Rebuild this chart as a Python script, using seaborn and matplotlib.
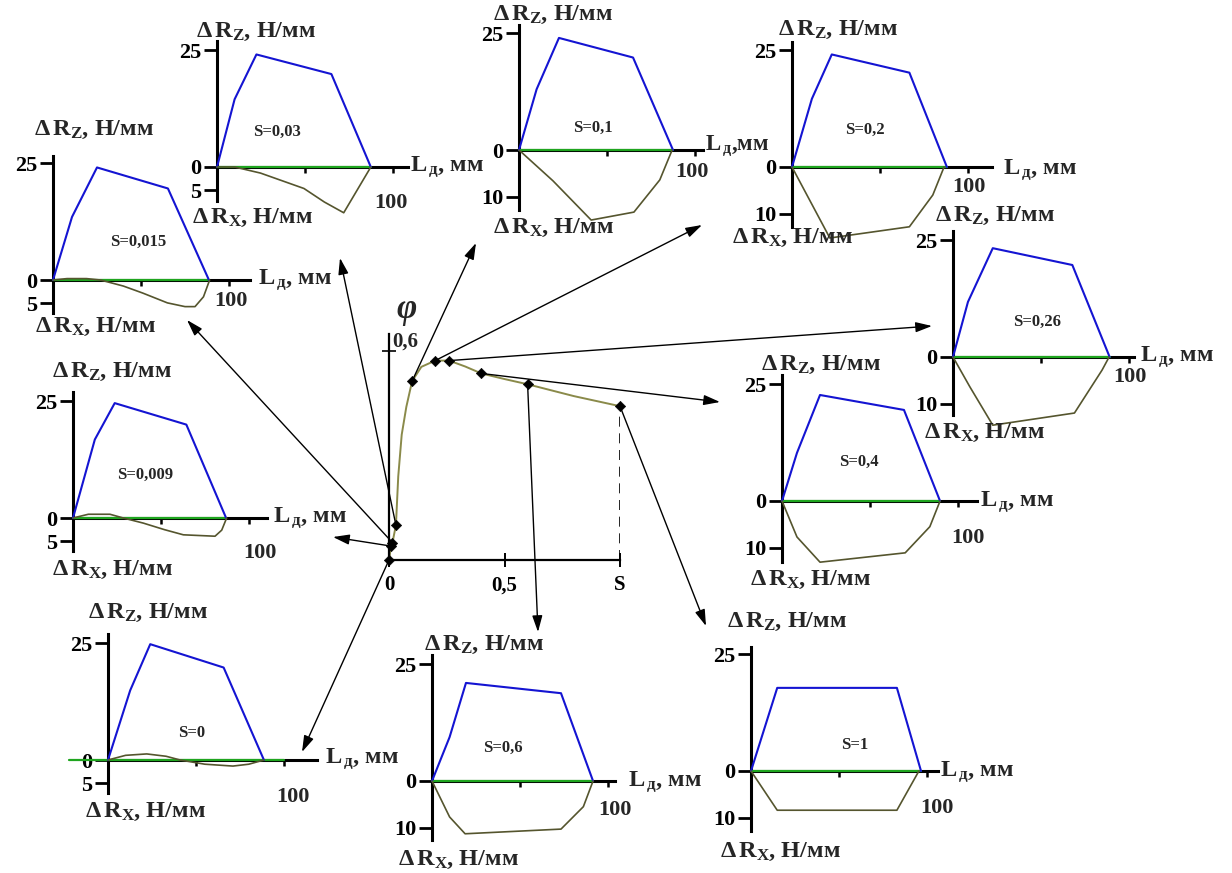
import numpy as np
import matplotlib
matplotlib.use("Agg")
import matplotlib.pyplot as plt
import seaborn as sns

# ---------------------------------------------------------------- data
# friction coefficient phi versus slip S
S_VALUES = [0, 0.009, 0.015, 0.03, 0.1, 0.2, 0.26, 0.4, 0.6, 1.0]
PHI_VALUES = [0.0, 0.04, 0.05, 0.10, 0.514, 0.573, 0.573, 0.536, 0.505, 0.442]
S_CURVE = [0, 0.009, 0.015, 0.03, 0.04, 0.055, 0.075, 0.1, 0.14, 0.2, 0.26,
           0.33, 0.4, 0.5, 0.6, 0.8, 1.0]
PHI_CURVE = [0.0, 0.04, 0.05, 0.10, 0.24, 0.36, 0.44, 0.514, 0.555, 0.573,
             0.573, 0.556, 0.536, 0.52, 0.505, 0.471, 0.442]

# contact-patch load profiles: L (mm), dRz and dRx (N/mm, dRx positive downwards)
LZ_0 = [0, 12.6, 24, 65.7, 88.6];          RZ_0 = [0, 14.9, 24.8, 19.8, 0]
LX_0 = [0, 10, 22, 33, 41, 55, 71, 80, 88.6]
RX_0 = [0, -1.0, -1.3, -0.8, 0, 0.9, 1.3, 0.9, 0]

LZ_009 = [0, 12.4, 23.7, 64.4, 87];        RZ_009 = [0, 16.8, 24.6, 20, 0]
LX_009 = [0, 8.7, 21, 28.6, 40, 52, 62.7, 80.7, 84.5, 87.3]
RX_009 = [0, -0.8, -0.8, 0, 1.1, 2.5, 3.6, 3.9, 2.6, 0]

LZ_015 = [0, 10.8, 25, 65.3, 88.6];        RZ_015 = [0, 13.5, 24.1, 19.6, 0]
LX_015 = [0, 8, 19, 27, 40, 51, 65, 75, 80.7, 85.5, 89]
RX_015 = [0, -0.3, -0.3, 0, 1.3, 2.8, 4.9, 5.7, 5.7, 3.6, 0]

LZ_03 = [0, 10, 22.4, 65, 87.4];           RZ_03 = [0, 14.5, 24.1, 19.9, 0]
LX_03 = [0, 10, 24.7, 49.4, 61, 72, 87.4]
RX_03 = [0, 0, 1.3, 4.6, 7.5, 9.8, 0]

LZ_1 = [0, 10, 22.7, 64.8, 87.5];          RZ_1 = [0, 13, 24, 19.8, 0]
LX_1 = [0, 19.3, 41, 65.3, 80, 87]
RX_1 = [0, 6.6, 15, 13.3, 6.4, 0]

LZ_2 = [0, 11.3, 22.6, 66.7, 88];          RZ_2 = [0, 14.6, 24.1, 20.2, 0]
LX_2 = [0, 21.5, 66.7, 80, 86.4]
RX_2 = [0, 15.2, 12.8, 6, 0]

LZ_26 = [0, 8.5, 22.6, 67.8, 89];          RZ_26 = [0, 11.8, 23.3, 19.7, 0]
LX_26 = [0, 9.6, 22.6, 69, 84.7, 88.7]
RX_26 = [0, 6.4, 14.6, 12, 2.8, 0]

LZ_4 = [0, 8.5, 21.6, 69.3, 89.8];         RZ_4 = [0, 10.3, 22.7, 19.5, 0]
LX_4 = [0, 8.5, 21.6, 70, 84, 89.8]
RX_4 = [0, 7.7, 13.1, 11.1, 5.5, 0]

LZ_6 = [0, 10, 19.3, 73.3, 91.5];          RZ_6 = [0, 9.4, 21, 18.8, 0]
LX_6 = [0, 10, 18.8, 73.3, 86, 91.5]
RX_6 = [0, 7.7, 11.3, 10.3, 5.5, 0]

LZ_10 = [0, 14.9, 82.9, 96.6];             RZ_10 = [0, 17.8, 17.8, 0]
LX_10 = [0, 14.9, 82.9, 95.4];             RX_10 = [0, 8.4, 8.4, 0]

S_LABELS = ["S=0", "S=0,009", "S=0,015", "S=0,03", "S=0,1", "S=0,2",
            "S=0,26", "S=0,4", "S=0,6", "S=1"]
PROFILES = [(LZ_0, RZ_0, LX_0, RX_0), (LZ_009, RZ_009, LX_009, RX_009),
            (LZ_015, RZ_015, LX_015, RX_015), (LZ_03, RZ_03, LX_03, RX_03),
            (LZ_1, RZ_1, LX_1, RX_1), (LZ_2, RZ_2, LX_2, RX_2),
            (LZ_26, RZ_26, LX_26, RX_26), (LZ_4, RZ_4, LX_4, RX_4),
            (LZ_6, RZ_6, LX_6, RX_6), (LZ_10, RZ_10, LX_10, RX_10)]
RX_TICK = [5, 5, 5, 5, 10, 10, 10, 10, 10, 10]

# ---------------------------------------------------------------- layout (pixels)
W, H = 1232, 873
SX, SY = 1.76, 4.67          # px per mm, px per N/mm inside each small panel
# origin, y-spine top/bottom, x-spine end, label anchors, arrow tip
PANELS = [
    dict(o=(108, 760), yt=27, yb=-7, xe=119, rz=(148, 613), rx=(145, 812),
         l=(325, 759), s=(192, 733), h=(293, 797), tip=(302, 752), green=(-22, 100)),
    dict(o=(73, 518), yt=27, yb=-7, xe=110, rz=(112, 372), rx=(112, 570),
         l=(273, 518), s=(145, 475), h=(260, 553), tip=(333, 537)),
    dict(o=(53, 280), yt=26.5, yb=-7, xe=112, rz=(94, 130), rx=(95, 327),
         l=(258, 280), s=(138, 242), h=(231, 301), tip=(187, 320)),
    dict(o=(217, 167), yt=27, yb=-7.2, xe=108.5, rz=(256, 32), rx=(252, 218),
         l=(410, 167), s=(277, 132), h=(391, 203), tip=(340, 258)),
    dict(o=(519, 150), yt=26.8, yb=-12.8, xe=104.5, rz=(553, 15), rx=(553, 228),
         l=(705, 146), s=(593, 128), h=(692, 172), tip=(476, 243), tight=True),
    dict(o=(792, 167), yt=26.8, yb=-12.8, xe=113.6, rz=(838, 30), rx=(792, 238),
         l=(1003, 170), s=(865, 130), h=(969, 187), tip=(702, 225)),
    dict(o=(953, 357), yt=27, yb=-12.4, xe=103, rz=(995, 216), rx=(984, 433),
         l=(1140, 357), s=(1037, 322), h=(1130, 377), tip=(932, 326)),
    dict(o=(782, 501), yt=27, yb=-13, xe=111, rz=(821, 365), rx=(810, 580),
         l=(980, 502), s=(859, 462), h=(968, 538), tip=(720, 402)),
    dict(o=(432, 781), yt=27, yb=-12.6, xe=104, rz=(484, 645), rx=(458, 860),
         l=(628, 782), s=(503, 748), h=(615, 810), tip=(538, 632)),
    dict(o=(751, 771), yt=26.5, yb=-12.8, xe=106, rz=(787, 622), rx=(780, 852),
         l=(940, 772), s=(855, 745), h=(937, 808), tip=(706, 626)),
]

BLUE = "#1414d2"
OLIVE = "#55552e"
CURVE = "#8a8a4a"
GREEN = "#1fa51f"

# ---------------------------------------------------------------- style
sns.set_theme(style="white")
plt.rcParams["font.family"] = ["Liberation Serif", "DejaVu Serif"]
plt.rcParams["font.weight"] = "bold"
plt.rcParams["mathtext.fontset"] = "custom"
plt.rcParams["mathtext.rm"] = "Liberation Serif:bold"
plt.rcParams["mathtext.it"] = "Liberation Serif:italic:bold"
plt.rcParams["mathtext.bf"] = "Liberation Serif:bold"
plt.rcParams["xtick.bottom"] = True
plt.rcParams["ytick.left"] = True

fig = plt.figure(figsize=(W / 100, H / 100), dpi=100)
fig.patch.set_facecolor("white")


def fx(x):
    return x / W


def fy(y):
    return 1 - y / H


def ptext(xy, s, **kw):
    fig.text(fx(xy[0]), fy(xy[1]), s, **kw)


RZ_TXT = r"$\mathrm{\Delta\,R_{Z}}$, Н/мм"
RX_TXT = r"$\mathrm{\Delta\,R_{X}}$, Н/мм"
L_TXT = r"$\mathrm{L_{\,д}}$, мм"
L_TXT_TIGHT = r"$\mathrm{L_{\,д}}$,мм"

# ---------------------------------------------------------------- central phi(S) plot
S0X, S0Y, KX, KY = 389, 560, 231, 348
ax = fig.add_axes([fx(S0X), fy(S0Y), KX / W, 0.65 * KY / H])
ax.set_xlim(0, 1)
ax.set_ylim(0, 0.65)
ax.patch.set_alpha(0)
for side in ("top", "right"):
    ax.spines[side].set_visible(False)
for side in ("left", "bottom"):
    ax.spines[side].set_color("black")
    ax.spines[side].set_linewidth(1.6)
ax.set_xticks([0, 0.5, 1.0], ["0", "0,5", "S"])
ax.set_yticks([0.6], [""])
ax.tick_params(axis="x", bottom=True, direction="inout", length=10, width=1.4,
               pad=6, labelsize=15, colors="black")
ax.tick_params(axis="y", left=True, direction="inout", length=10, width=1.4)
for t in ax.get_xticklabels():
    t.set_fontweight("bold")
ax.text(0.012, 0.6, "0,6", fontsize=15, fontweight="bold", ha="left", va="bottom")
ax.text(0.075, 0.72, "φ", fontsize=25, fontweight="bold", fontstyle="italic",
        ha="center", va="center", clip_on=False)

sns.lineplot(x=S_CURVE, y=PHI_CURVE, color=CURVE, lw=1.4, sort=False,
             estimator=None, ax=ax)
ax.plot([S_VALUES[-1], S_VALUES[-1]], [0, PHI_VALUES[-1]], color="black",
        lw=1.2, ls=(0, (6, 4)))
sns.scatterplot(x=S_VALUES, y=PHI_VALUES, marker="D", s=28, color="black",
                edgecolor="black", zorder=6, clip_on=False, ax=ax)

for s, phi, p in zip(S_VALUES, PHI_VALUES, PANELS):
    ax.annotate("", xy=(fx(p["tip"][0]), fy(p["tip"][1])), xycoords="figure fraction",
                xytext=(s, phi), textcoords="data", annotation_clip=False,
                arrowprops=dict(arrowstyle="-|>,head_length=0.9,head_width=0.28",
                                color="black", lw=1.0, shrinkA=0, shrinkB=0,
                                mutation_scale=11))

# ---------------------------------------------------------------- small load panels
for p, prof, lab, neg in zip(PANELS, PROFILES, S_LABELS, RX_TICK):
    lz, rz, lx, rx = prof
    x0, y0 = p["o"]
    xa, xb = -25.0, p["xe"] + 3
    ya = min(p["yb"], -max(rx)) - 2
    yb = 29.0
    left = x0 + xa * SX
    bottom = y0 - ya * SY
    a = fig.add_axes([fx(left), fy(bottom), (xb - xa) * SX / W, (yb - ya) * SY / H])
    a.set_xlim(xa, xb)
    a.set_ylim(ya, yb)
    a.patch.set_alpha(0)
    a.grid(False)
    for side in ("top", "right"):
        a.spines[side].set_visible(False)
    a.spines["left"].set_position(("data", 0))
    a.spines["bottom"].set_position(("data", 0))
    a.spines["left"].set_bounds(p["yb"], p["yt"])
    a.spines["bottom"].set_bounds(0, p["xe"])
    for side in ("left", "bottom"):
        a.spines[side].set_color("black")
        a.spines[side].set_linewidth(2.2)
    a.set_yticks([-neg, 0, 25], [str(neg), "0", "25"])
    a.set_xticks([50, 100], ["", ""])
    a.tick_params(axis="y", left=True, direction="out", length=9.5, width=2.0,
                  pad=2, labelsize=16, colors="black")
    a.tick_params(axis="x", bottom=True, direction="out", length=4.5, width=1.8,
                  colors="black")
    for t in a.get_yticklabels():
        t.set_fontweight("bold")

    g0, g1 = p.get("green", (lz[0], lz[-1]))
    a.plot([g0, g1], [0, 0], color=GREEN, lw=1.6, zorder=3, clip_on=False)
    sns.lineplot(x=lz, y=rz, color=BLUE, lw=1.5, sort=False, estimator=None,
                 ax=a, zorder=4)
    sns.lineplot(x=lx, y=-np.asarray(rx), color=OLIVE, lw=1.2, sort=False,
                 estimator=None, ax=a, zorder=4)

    ptext(p["rz"], RZ_TXT, fontsize=17.5, ha="center", va="center")
    ptext(p["rx"], RX_TXT, fontsize=17.5, ha="center", va="center")
    ptext(p["l"], L_TXT_TIGHT if p.get("tight") else L_TXT,
          fontsize=16.5 if p.get("tight") else 17.5, ha="left", va="center")
    ptext(p["s"], lab, fontsize=12, ha="center", va="center")
    ptext(p["h"], "100", fontsize=16, ha="center", va="center")

fig.savefig("out.png", dpi=100, facecolor="white")
